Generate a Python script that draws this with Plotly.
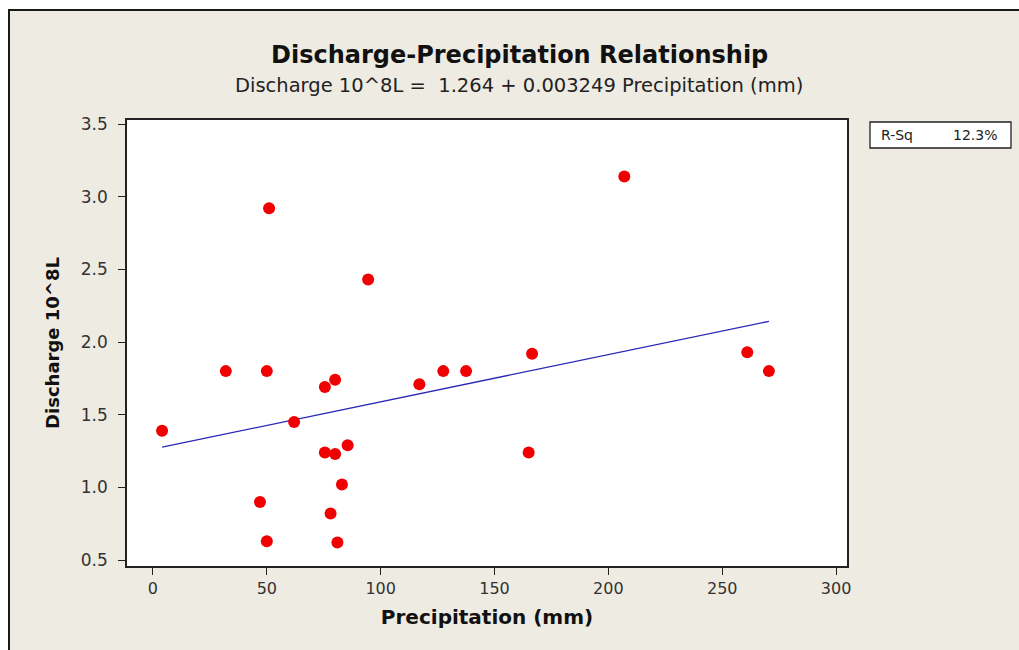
import plotly.graph_objects as go

# ---- data ----
precip = [4, 32, 50, 51, 47, 50, 62, 75.5, 80, 75.5, 80, 85.5, 83, 78, 81, 94.5,
          117, 127.5, 137.5, 166.5, 165, 207, 261, 270.5]
discharge = [1.39, 1.80, 1.80, 2.92, 0.90, 0.63, 1.45, 1.69, 1.74, 1.24, 1.23, 1.29,
             1.02, 0.82, 0.62, 2.43, 1.71, 1.80, 1.80, 1.92, 1.24, 3.14, 1.93, 1.80]
intercept = 1.264
slope = 0.003249
r_sq_label = "12.3%"
x_ticks = [0, 50, 100, 150, 200, 250, 300]
y_ticks = [0.5, 1.0, 1.5, 2.0, 2.5, 3.0, 3.5]
y_tick_text = ["0.5", "1.0", "1.5", "2.0", "2.5", "3.0", "3.5"]

fit_x = [min(precip), max(precip)]
fit_y = [intercept + slope * v for v in fit_x]

W, H = 1019, 650
L, R, T, B = 127, 847, 120, 566
BG = "#EEEBE2"
FONT = "DejaVu Sans"


def px(xp):
    return (xp - L) / (R - L)


def py(yp):
    return (B - yp) / (B - T)


fig = go.Figure()
fig.add_trace(go.Scatter(x=fit_x, y=fit_y, mode="lines",
                         line=dict(color="#2828B4", width=1.3),
                         hoverinfo="skip", showlegend=False))
fig.add_trace(go.Scatter(x=precip, y=discharge, mode="markers",
                         marker=dict(color="#F00000", size=12, line=dict(width=0)),
                         showlegend=False))

shapes = [
    # white strips outside window border
    dict(type="rect", xref="paper", yref="paper", x0=px(-5), x1=px(8), y0=py(660), y1=py(-5),
         fillcolor="white", line=dict(width=0), layer="below"),
    dict(type="rect", xref="paper", yref="paper", x0=px(-5), x1=px(1030), y0=py(9), y1=py(-5),
         fillcolor="white", line=dict(width=0), layer="below"),
    dict(type="line", xref="paper", yref="paper", x0=px(9), x1=px(9), y0=py(660), y1=py(9.5),
         line=dict(color="#1a1a1a", width=2)),
    dict(type="line", xref="paper", yref="paper", x0=px(8), x1=px(1030), y0=py(10), y1=py(10),
         line=dict(color="#1a1a1a", width=2)),
    # R-Sq box
    dict(type="rect", xref="paper", yref="paper", x0=px(870), x1=px(1011), y0=py(148), y1=py(122),
         fillcolor="white", line=dict(color="#222", width=1.3)),
]

annotations = [
    dict(text="<b>Discharge-Precipitation Relationship</b>", xref="paper", yref="paper",
         x=px(519), y=py(55), showarrow=False, font=dict(family=FONT, size=24, color="#111"),
         xanchor="center", yanchor="middle"),
    dict(text="Discharge 10^8L =  1.264 + 0.003249 Precipitation (mm)", xref="paper", yref="paper",
         x=px(519), y=py(85), showarrow=False, font=dict(family=FONT, size=19.5, color="#222"),
         xanchor="center", yanchor="middle"),
    dict(text="R-Sq", xref="paper", yref="paper", x=px(879), y=py(135), showarrow=False,
         font=dict(family=FONT, size=14, color="#222"), xanchor="left", yanchor="middle"),
    dict(text=r_sq_label, xref="paper", yref="paper", x=px(999), y=py(135), showarrow=False,
         font=dict(family=FONT, size=14, color="#222"), xanchor="right", yanchor="middle"),
]

fig.update_layout(
    width=W, height=H,
    margin=dict(l=L, r=W - R, t=T, b=H - B),
    paper_bgcolor=BG, plot_bgcolor="white",
    shapes=shapes, annotations=annotations,
    font=dict(family=FONT, color="#222"),
    xaxis=dict(range=[-11.4, 304.8], tickvals=x_ticks, showgrid=False, zeroline=False,
               showline=True, mirror=True, linecolor="#222", linewidth=1.5,
               ticks="outside", ticklen=7, tickcolor="#222", tickwidth=1.2,
               tickfont=dict(family=FONT, size=16, color="#333"),
               title=dict(text="<b>Precipitation (mm)</b>", font=dict(family=FONT, size=20, color="#111"),
                          standoff=13)),
    yaxis=dict(range=[0.459, 3.528], tickvals=y_ticks, ticktext=y_tick_text, showgrid=False,
               zeroline=False, showline=True, mirror=True, linecolor="#222", linewidth=1.5,
               ticks="outside", ticklen=7, tickcolor="#222", tickwidth=1.2,
               ticklabelstandoff=7,
               tickfont=dict(family=FONT, size=17, color="#333"),
               title=dict(text="<b>Discharge 10^8L</b>", font=dict(family=FONT, size=18, color="#111"),
                          standoff=17)),
)

fig.write_html("out.html")
